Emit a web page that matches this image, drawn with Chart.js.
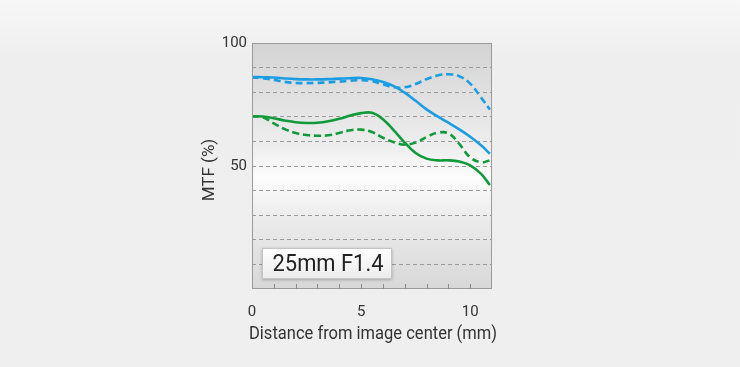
<!DOCTYPE html>
<html>
<head>
<meta charset="utf-8">
<script src="https://cdn.jsdelivr.net/npm/chart.js@4"></script>
<style>
    html, body { margin: 0; padding: 0; }
    body { width: 740px; height: 367px; background: linear-gradient(#f7f7f7, #eeeeee 60px, #efefef); }
    #wrap { position: relative; width: 740px; height: 367px; }
</style>
</head>
<body>
<div id="wrap"><canvas id="mtfChart" width="740" height="367"></canvas></div>
<script>
// distances (mm) shared by all curves
const distances = [0, 0.5, 1, 1.5, 2, 2.5, 3, 3.5, 4, 4.5, 5, 5.5, 6, 6.5, 7, 7.5, 8, 8.5, 9, 9.5, 10, 10.5, 10.9];

// MTF values (%)
const blueSolid  = [86.2, 86.1, 86.0, 85.6, 85.3, 85.2, 85.2, 85.3, 85.5, 85.7, 85.8, 85.3, 84.2, 82.5, 79.8, 76.5, 73.0, 70.2, 67.6, 64.9, 61.9, 58.4, 55.0];
const blueDashed = [86.0, 85.7, 85.0, 84.2, 83.8, 83.7, 83.8, 84.0, 84.3, 84.7, 84.9, 84.5, 83.2, 82.0, 82.0, 83.3, 85.3, 86.8, 87.3, 86.5, 83.5, 77.8, 73.0];
const greenSolid = [70.2, 70.1, 69.4, 68.5, 67.8, 67.5, 67.6, 68.2, 69.2, 70.5, 71.5, 71.6, 69.0, 64.5, 59.5, 55.3, 53.0, 52.3, 52.3, 51.8, 50.3, 46.8, 42.3];
const greenDashed = [70.2, 69.8, 67.3, 65.0, 63.4, 62.6, 62.3, 62.5, 63.4, 64.5, 64.8, 63.8, 61.5, 59.7, 58.7, 59.5, 61.8, 63.5, 63.3, 59.0, 53.5, 51.5, 52.3];

const xTickLabels = [0, 5, 10];
const yTickLabels = [50, 100];
const lensName = '25mm F1.4';

const BLUE = '#1b9de2';
const GREEN = '#119a3a';
const FONT = 'Roboto, "Noto Sans", sans-serif';

function points(ys) {
    return distances.map((d, i) => ({ x: d, y: ys[i] }));
}

function series(ys, color, dashed) {
    return {
        data: points(ys),
        borderColor: color,
        borderWidth: 2.6,
        borderDash: dashed ? [7, 4] : [],
        pointRadius: 0,
        fill: false,
        tension: 0.4
    };
}

// draws text squeezed horizontally to a given width (the original uses a condensed face)
function fitText(ctx, text, cx, cy, width) {
    const w = ctx.measureText(text).width;
    ctx.save();
    ctx.translate(cx, cy);
    ctx.scale(Math.min(1, width / w), 1);
    ctx.fillText(text, 0, 0);
    ctx.restore();
}

// plot background, border, inner ticks, axis titles and lens label
const decorPlugin = {
    id: 'decor',
    beforeDraw(chart) {
        const { ctx, chartArea: a } = chart;
        const g = ctx.createLinearGradient(0, a.top, 0, a.bottom);
        g.addColorStop(0, '#d3d3d3');
        g.addColorStop(0.42, '#eeeeee');
        g.addColorStop(0.55, '#fcfcfc');
        g.addColorStop(0.72, '#ebebeb');
        g.addColorStop(1, '#d8d8d8');
        ctx.save();
        ctx.fillStyle = g;
        ctx.fillRect(a.left, a.top, a.right - a.left, a.bottom - a.top);
        ctx.restore();
    },
    afterDraw(chart) {
        const { ctx, chartArea: a } = chart;
        const xs = chart.scales.x;
        ctx.save();
        // frame
        ctx.strokeStyle = '#9a9a9a';
        ctx.lineWidth = 1;
        ctx.strokeRect(a.left + 0.5, a.top + 0.5, a.right - a.left - 1, a.bottom - a.top - 1);
        // small ticks pointing up
        ctx.strokeStyle = '#8a8a8a';
        for (let v = 1; v <= 10; v++) {
            const px = Math.round(xs.getPixelForValue(v)) + 0.5;
            ctx.beginPath();
            ctx.moveTo(px, a.bottom);
            ctx.lineTo(px, a.bottom - 5);
            ctx.stroke();
        }
        // axis titles
        ctx.fillStyle = '#333';
        ctx.font = '19px ' + FONT;
        ctx.textAlign = 'center';
        ctx.textBaseline = 'middle';
        fitText(ctx, 'Distance from image center (mm)', 373, 334, 248);
        ctx.font = '17px ' + FONT;
        ctx.translate(210, 170);
        ctx.rotate(-Math.PI / 2);
        ctx.fillText('MTF (%)', 0, 0);
        ctx.restore();

        // lens label box
        ctx.save();
        const bx = 262, by = 248, bw = 130, bh = 31;
        ctx.shadowColor = 'rgba(0,0,0,0.25)';
        ctx.shadowBlur = 3;
        ctx.shadowOffsetY = 1;
        const bg = ctx.createLinearGradient(0, by, 0, by + bh);
        bg.addColorStop(0, '#ffffff');
        bg.addColorStop(1, '#ececec');
        ctx.fillStyle = bg;
        ctx.fillRect(bx, by, bw, bh);
        ctx.shadowColor = 'transparent';
        ctx.strokeStyle = '#c4c4c4';
        ctx.strokeRect(bx + 0.5, by + 0.5, bw - 1, bh - 1);
        ctx.fillStyle = '#222';
        ctx.font = '24px ' + FONT;
        ctx.textAlign = 'center';
        ctx.textBaseline = 'middle';
        fitText(ctx, lensName, bx + bw / 2 + 1, by + bh / 2 + 1, 111);
        ctx.restore();
    }
};

new Chart(document.getElementById('mtfChart'), {
    type: 'line',
    data: {
        datasets: [
            series(greenDashed, GREEN, true),
            series(greenSolid, GREEN, false),
            series(blueDashed, BLUE, true),
            series(blueSolid, BLUE, false)
        ]
    },
    options: {
        responsive: false,
        animation: false,
        layout: { padding: { left: 0, top: 43, right: 248, bottom: 0 } },
        plugins: {
            legend: { display: false },
            tooltip: { enabled: false }
        },
        scales: {
            x: {
                type: 'linear',
                min: 0,
                max: 11,
                afterFit(scale) { scale.height = 78; },
                grid: { display: false },
                border: { display: false },
                ticks: {
                    stepSize: 1,
                    padding: 6,
                    autoSkip: false,
                    maxRotation: 0,
                    color: '#333',
                    font: { family: FONT, size: 15 },
                    callback: v => xTickLabels.includes(v) ? String(v) : ''
                }
            },
            y: {
                min: 0,
                max: 100,
                afterFit(scale) { scale.width = 252; },
                border: { display: false, dash: [4, 3] },
                grid: {
                    drawTicks: false,
                    color: ctx => (ctx.tick.value > 0 && ctx.tick.value < 100) ? '#9a9a9a' : 'rgba(0,0,0,0)',
                    lineWidth: 1
                },
                ticks: {
                    stepSize: 10,
                    padding: 5,
                    autoSkip: false,
                    color: '#333',
                    font: { family: FONT, size: 15 },
                    callback: v => yTickLabels.includes(v) ? String(v) : ''
                }
            }
        }
    },
    plugins: [decorPlugin]
});
</script>
</body>
</html>
